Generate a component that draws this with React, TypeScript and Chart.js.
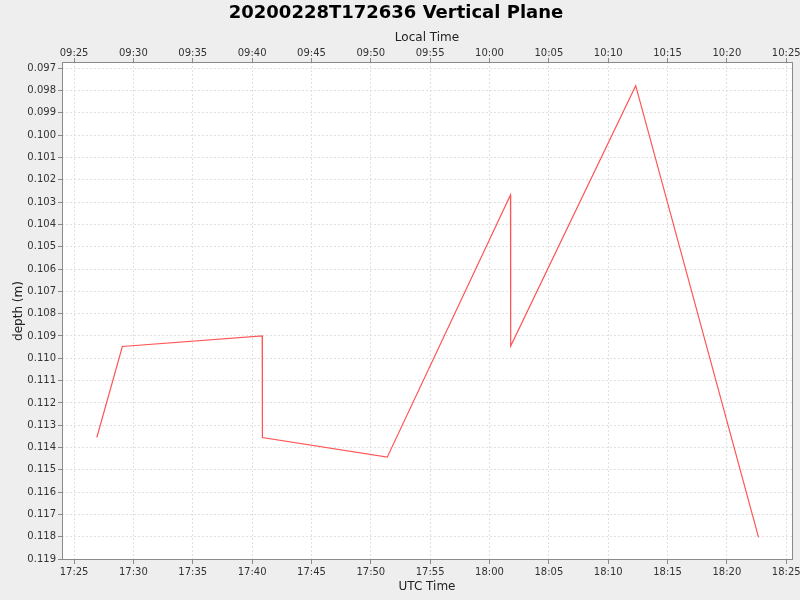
import React, { useEffect, useRef } from "react";
import { Chart, registerables } from "chart.js";

Chart.register(...registerables);

// ---- data ----
const chartTitle = "20200228T172636 Vertical Plane";
const utcTimes = [
  "17:26:55",
  "17:29:04",
  "17:40:51",
  "17:40:52",
  "17:51:23",
  "18:01:46",
  "18:01:47",
  "18:12:19",
  "18:22:40",
];
const depths = [
  0.11355, 0.10947, 0.109, 0.11355, 0.11443, 0.10268, 0.10945, 0.09778, 0.11803,
];
const utcTickLabels = [
  "17:25", "17:30", "17:35", "17:40", "17:45", "17:50", "17:55",
  "18:00", "18:05", "18:10", "18:15", "18:20", "18:25",
];
const localTickLabels = [
  "09:25", "09:30", "09:35", "09:40", "09:45", "09:50", "09:55",
  "10:00", "10:05", "10:10", "10:15", "10:20", "10:25",
];
const depthTicks = [
  0.097, 0.098, 0.099, 0.1, 0.101, 0.102, 0.103, 0.104, 0.105, 0.106, 0.107,
  0.108, 0.109, 0.11, 0.111, 0.112, 0.113, 0.114, 0.115, 0.116, 0.117, 0.118,
  0.119,
];
const xRange = ["17:23:59", "18:25:29"];
const yRange = [0.09672, 0.11904];

// ---- helpers ----
const toMin = (t: string) => {
  const p = t.split(":").map(Number);
  return p[0] * 60 + p[1] + (p[2] || 0) / 60;
};
const utcTickVals = utcTickLabels.map(toMin);
const FONT = "DejaVu Sans";
const TITLE_PAD_TOP = 3;
const TITLE_H = 18 * 1.2 + TITLE_PAD_TOP;

export default function App() {
  const ref = useRef<HTMLCanvasElement | null>(null);

  useEffect(() => {
    if (!ref.current) return;
    const labelFor = (labels: string[]) => (v: any) => {
      const i = utcTickVals.findIndex((t) => Math.abs(t - Number(v)) < 1e-6);
      return i >= 0 ? labels[i] : "";
    };
    const bgPlugin = {
      id: "bg",
      beforeDraw(chart: any) {
        const { ctx, chartArea: a } = chart;
        ctx.save();
        ctx.fillStyle = "#eeeeee";
        ctx.fillRect(0, 0, chart.width, chart.height);
        ctx.fillStyle = "#ffffff";
        ctx.fillRect(a.left, a.top, a.right - a.left, a.bottom - a.top);
        ctx.restore();
      },
      afterDatasetsDraw(chart: any) {
        const { ctx, chartArea: a } = chart;
        ctx.save();
        ctx.strokeStyle = "#8a8a8a";
        ctx.lineWidth = 1;
        ctx.setLineDash([]);
        ctx.strokeRect(a.left + 0.5, a.top + 0.5, a.right - a.left, a.bottom - a.top - 1);
        ctx.restore();
      },
    };
    const zeroPad = (s: any) => {
      s.paddingLeft = 0;
      s.paddingRight = 0;
      s.paddingTop = 0;
      s.paddingBottom = 0;
    };
    const tickFont = { family: FONT, size: 10 };
    const axisTitleFont = { family: FONT, size: 12, lineHeight: 1.2 };
    const chart = new Chart(ref.current, {
      type: "line",
      data: {
        datasets: [
          {
            data: utcTimes.map((t, i) => ({ x: toMin(t), y: depths[i] })),
            borderColor: "rgb(255, 85, 85)",
            borderWidth: 1.2,
            pointRadius: 0,
            tension: 0,
            fill: false,
            xAxisID: "x",
            yAxisID: "y",
          },
        ],
      },
      options: {
        animation: false,
        responsive: false,
        maintainAspectRatio: false,
        layout: { padding: { left: 0, right: 8, top: 0, bottom: 0 } },
        plugins: {
          legend: { display: false },
          tooltip: { enabled: false },
          title: {
            display: true,
            text: chartTitle,
            color: "#000000",
            font: { family: FONT, size: 18, weight: "bold", lineHeight: 1.2 },
            padding: { top: TITLE_PAD_TOP, bottom: 0 },
          },
        },
        scales: {
          x: {
            type: "linear",
            position: "bottom",
            min: toMin(xRange[0]),
            max: toMin(xRange[1]),
            afterBuildTicks: (s: any) => {
              s.ticks = utcTickVals.map((v) => ({ value: v }));
            },
            afterFit: (s: any) => {
              s.height = 40;
              zeroPad(s);
            },
            ticks: {
              callback: labelFor(utcTickLabels),
              color: "#333333",
              font: tickFont,
              maxRotation: 0,
              autoSkip: false,
              padding: 2,
            },
            grid: {
              color: "#e0e0e0",
              tickColor: "#8a8a8a",
              tickLength: 4,
              tickBorderDash: [],
            },
            border: { display: false, dash: [2, 2] },
            title: {
              display: true,
              text: "UTC Time",
              color: "#222222",
              font: axisTitleFont,
              padding: { top: 0, bottom: 6 },
            },
          },
          x2: {
            type: "linear",
            position: "top",
            min: toMin(xRange[0]),
            max: toMin(xRange[1]),
            afterBuildTicks: (s: any) => {
              s.ticks = utcTickVals.map((v) => ({ value: v }));
            },
            afterFit: (s: any) => {
              s.height = 62 - TITLE_H;
              zeroPad(s);
            },
            ticks: {
              callback: labelFor(localTickLabels),
              color: "#333333",
              font: tickFont,
              maxRotation: 0,
              autoSkip: false,
              padding: -1,
            },
            grid: {
              drawOnChartArea: false,
              tickColor: "#8a8a8a",
              tickLength: 4,
              tickBorderDash: [],
            },
            border: { display: false },
            title: {
              display: true,
              text: "Local Time",
              color: "#222222",
              font: axisTitleFont,
              padding: { top: 6, bottom: 0 },
            },
          },
          y: {
            type: "linear",
            position: "left",
            reverse: true,
            min: yRange[0],
            max: yRange[1],
            afterBuildTicks: (s: any) => {
              s.ticks = depthTicks.map((v) => ({ value: v }));
            },
            afterFit: (s: any) => {
              s.width = 62;
              zeroPad(s);
            },
            ticks: {
              callback: (v: any) => Number(v).toFixed(3),
              color: "#333333",
              font: tickFont,
              autoSkip: false,
              padding: 2,
            },
            grid: {
              color: "#e0e0e0",
              tickColor: "#8a8a8a",
              tickLength: 4,
              tickBorderDash: [],
            },
            border: { display: false, dash: [2, 2] },
            title: {
              display: true,
              text: "depth (m)",
              color: "#222222",
              font: axisTitleFont,
              padding: { top: 11.5, bottom: 0 },
            },
          },
        },
      },
      plugins: [bgPlugin],
    } as any);
    return () => chart.destroy();
  }, []);

  return (
    <div style={{ position: "fixed", left: 0, top: 0, width: 800, height: 600 }}>
      <canvas ref={ref} width={800} height={600} />
    </div>
  );
}
